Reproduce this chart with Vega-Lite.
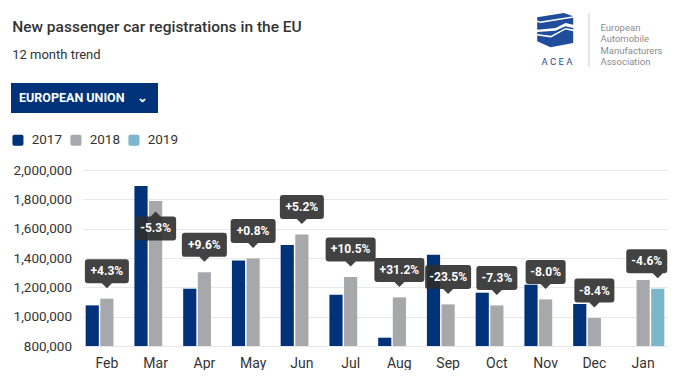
{
  "$schema": "https://vega.github.io/schema/vega-lite/v6.json",
  "background": "white",
  "padding": {"left": 10.5, "top": 13, "right": 0, "bottom": 0},
  "config": {"font": "Roboto", "view": {"stroke": null}},
  "datasets": {
    "bars": [
      {"month": "Feb", "year": "2017", "value": 1077000},
      {"month": "Feb", "year": "2018", "value": 1122500},
      {"month": "Mar", "year": "2017", "value": 1891000},
      {"month": "Mar", "year": "2018", "value": 1789000},
      {"month": "Apr", "year": "2017", "value": 1190700},
      {"month": "Apr", "year": "2018", "value": 1302000},
      {"month": "May", "year": "2017", "value": 1383700},
      {"month": "May", "year": "2018", "value": 1397300},
      {"month": "Jun", "year": "2017", "value": 1488700},
      {"month": "Jun", "year": "2018", "value": 1561000},
      {"month": "Jul", "year": "2017", "value": 1149800},
      {"month": "Jul", "year": "2018", "value": 1270500},
      {"month": "Aug", "year": "2017", "value": 856600},
      {"month": "Aug", "year": "2018", "value": 1131400},
      {"month": "Sep", "year": "2017", "value": 1422600},
      {"month": "Sep", "year": "2018", "value": 1083700},
      {"month": "Oct", "year": "2017", "value": 1163400},
      {"month": "Oct", "year": "2018", "value": 1076800},
      {"month": "Nov", "year": "2017", "value": 1218000},
      {"month": "Nov", "year": "2018", "value": 1117800},
      {"month": "Dec", "year": "2017", "value": 1086400},
      {"month": "Dec", "year": "2018", "value": 990900},
      {"month": "Jan", "year": "2018", "value": 1250000},
      {"month": "Jan", "year": "2019", "value": 1190700}
    ],
    "labels": [
      {"month": "Feb", "year": "2018", "value": 1122500, "label": "+4.3%"},
      {"month": "Mar", "year": "2018", "value": 1789000, "label": "-5.3%"},
      {"month": "Apr", "year": "2018", "value": 1302000, "label": "+9.6%"},
      {"month": "May", "year": "2018", "value": 1397300, "label": "+0.8%"},
      {"month": "Jun", "year": "2018", "value": 1561000, "label": "+5.2%"},
      {"month": "Jul", "year": "2018", "value": 1270500, "label": "+10.5%"},
      {"month": "Aug", "year": "2018", "value": 1131400, "label": "+31.2%"},
      {"month": "Sep", "year": "2018", "value": 1083700, "label": "-23.5%"},
      {"month": "Oct", "year": "2018", "value": 1076800, "label": "-7.3%"},
      {"month": "Nov", "year": "2018", "value": 1117800, "label": "-8.0%"},
      {"month": "Dec", "year": "2018", "value": 990900, "label": "-8.4%"},
      {"month": "Jan", "year": "2019", "value": 1190700, "label": "-4.6%"}
    ]
  },
  "concat": [
    {
      "concat": [
        {
          "concat": [
            {
              "width": 443,
              "height": 1,
              "view": {"fill": "white", "stroke": null},
              "title": {
                "text": "New passenger car registrations in the EU",
                "subtitle": "12 month trend",
                "orient": "bottom",
                "anchor": "start",
                "frame": "group",
                "dx": -70.3,
                "fontSize": 15.5,
                "fontWeight": 500,
                "color": "#333333",
                "subtitleFontSize": 13,
                "subtitleColor": "#333333",
                "subtitlePadding": 14,
                "offset": 5.5
              },
              "data": {"values": []},
              "mark": "text",
              "encoding": {}
            },
            {
              "width": 41,
              "height": 35,
              "view": {"fill": "white", "stroke": null},
              "title": {"text": "A C E A", "orient": "bottom", "anchor": "middle", "fontSize": 9.5, "fontWeight": "normal", "color": "#1f4d9b", "offset": 9},
              "data": {"values": [{"logo": "ACEA"}]},
              "mark": {
                "type": "point",
                "filled": true,
                "size": 4,
                "opacity": 1,
                "strokeWidth": 0,
                "color": "#1f4d9b",
                "shape": "M-19.8,-13.2L6.8,-17.5L16.2,-14.2L-17,-9L-19.8,-9.9Z M-19.8,-8.4L-16.5,-7.4L16.2,-12.8L16.2,-5.8L8.5,-7.5L-1.5,-2.5L-19.8,-0.8Z M-19.8,1.5L-1.5,0.2L8.5,-4.2L16.2,-2.5L16.2,-0.9L8.5,-2.6L-6,5.3L-19.8,3.4Z M-19.8,5L-6,7.1L8.5,-0.9L16.2,0.7L16.2,12.5L-6.5,16.8L-19.8,10.8Z"
              },
              "encoding": {}
            },
            {
              "width": 1,
              "height": 54,
              "view": {"fill": "#cccccc", "stroke": null},
              "data": {"values": []},
              "mark": "text",
              "encoding": {}
            },
            {
              "width": 56,
              "height": 10,
              "view": {"fill": "white", "stroke": null},
              "title": {
                "text": ["European", "Automobile", "Manufacturers", "Association"],
                "orient": "bottom",
                "anchor": "start",
                "frame": "group",
                "fontSize": 9.5,
                "fontWeight": "normal",
                "color": "#8c8c8c",
                "lineHeight": 11.3,
                "offset": 0
              },
              "data": {"values": []},
              "mark": "text",
              "encoding": {}
            }
          ],
          "columns": 4,
          "align": "none",
          "spacing": 11
        },
        {
          "width": 148,
          "height": 30,
          "data": {"values": [{"label": "EUROPEAN UNION\u00a0\u00a0\u00a0\u00a0⌄"}]},
          "layer": [
            {
              "mark": {
                "type": "point",
                "filled": true,
                "size": 4,
                "opacity": 1,
                "strokeWidth": 0,
                "color": "#00337a",
                "shape": "M-145.5,-15L1.5,-15L1.5,15L-145.5,15Z"
              },
              "encoding": {}
            },
            {
              "mark": {"type": "text", "color": "white", "fontWeight": "bold", "fontSize": 12.5, "dx": -73},
              "encoding": {"text": {"field": "label"}}
            }
          ]
        }
      ],
      "columns": 1,
      "align": "none",
      "spacing": 16
    },
    {
      "width": 585,
      "height": 176,
      "encoding": {
        "x": {
          "field": "month",
          "type": "nominal",
          "sort": ["Feb", "Mar", "Apr", "May", "Jun", "Jul", "Aug", "Sep", "Oct", "Nov", "Dec", "Jan"],
          "scale": {"paddingInner": 0.1, "paddingOuter": 0.05},
          "axis": {"title": null, "labelAngle": 0, "domain": false, "ticks": false, "grid": false, "labelFontSize": 14, "labelColor": "#333333", "labelPadding": 10}
        },
        "xOffset": {
          "field": "year",
          "type": "nominal",
          "scale": {"domain": ["2017", "2018", "2019"], "paddingInner": 0.1, "paddingOuter": 0.05}
        },
        "y": {
          "field": "value",
          "type": "quantitative",
          "scale": {"domain": [800000, 2000000], "nice": false, "zero": false},
          "axis": {
            "title": null,
            "values": [800000, 1000000, 1200000, 1400000, 1600000, 1800000, 2000000],
            "format": ",d",
            "domain": false,
            "ticks": false,
            "labelFontSize": 13.5,
            "labelColor": "#333333",
            "labelPadding": 11,
            "gridColor": "#e8e8e8"
          }
        }
      },
      "layer": [
        {
          "data": {"name": "bars"},
          "mark": {"type": "bar"},
          "encoding": {
            "y2": {"datum": 800000},
            "color": {
              "field": "year",
              "type": "nominal",
              "scale": {"domain": ["2017", "2018", "2019"], "range": ["#00327a", "#a7a8ab", "#7db5cb"]},
              "legend": {
                "title": null,
                "orient": "none",
                "legendX": -71.3,
                "legendY": 120,
                "direction": "horizontal",
                "symbolType": "M-0.7,-1L0.7,-1Q1,-1 1,-0.7L1,0.7Q1,1 0.7,1L-0.7,1Q-1,1 -1,0.7L-1,-0.7Q-1,-1 -0.7,-1Z",
                "symbolSize": 121,
                "symbolStrokeWidth": 0,
                "labelFontSize": 13.5,
                "labelColor": "#333333",
                "labelOffset": 7,
                "columnPadding": 7,
                "padding": 0
              }
            }
          }
        },
        {
          "data": {"name": "labels"},
          "mark": {"type": "point", "filled": true, "size": 4, "strokeWidth": 0, "color": "#2e2e2e", "opacity": 0.9},
          "encoding": {
            "shape": {
              "field": "label",
              "type": "nominal",
              "legend": null,
              "scale": {
                "domain": ["+4.3%", "-5.3%", "+9.6%", "+0.8%", "+5.2%", "+10.5%", "+31.2%", "-23.5%", "-7.3%", "-8.0%", "-8.4%", "-4.6%"],
                "range": [
                  "M-19,-39.5L19,-39.5Q22,-39.5 22,-36.5L22,-18.5Q22,-15.5 19,-15.5L5,-15.5L0,-10.5L-5,-15.5L-19,-15.5Q-22,-15.5 -22,-18.5L-22,-36.5Q-22,-39.5 -19,-39.5Z",
                  "M-17.5,39.5L17.5,39.5Q20.5,39.5 20.5,36.5L20.5,18.5Q20.5,15.5 17.5,15.5L5,15.5L0,10.5L-5,15.5L-17.5,15.5Q-20.5,15.5 -20.5,18.5L-20.5,36.5Q-20.5,39.5 -17.5,39.5Z",
                  "M-19.5,-39.5L19.5,-39.5Q22.5,-39.5 22.5,-36.5L22.5,-18.5Q22.5,-15.5 19.5,-15.5L5,-15.5L0,-10.5L-5,-15.5L-19.5,-15.5Q-22.5,-15.5 -22.5,-18.5L-22.5,-36.5Q-22.5,-39.5 -19.5,-39.5Z",
                  "M-19.5,-39.5L19.5,-39.5Q22.5,-39.5 22.5,-36.5L22.5,-18.5Q22.5,-15.5 19.5,-15.5L5,-15.5L0,-10.5L-5,-15.5L-19.5,-15.5Q-22.5,-15.5 -22.5,-18.5L-22.5,-36.5Q-22.5,-39.5 -19.5,-39.5Z",
                  "M-19,-39.5L19,-39.5Q22,-39.5 22,-36.5L22,-18.5Q22,-15.5 19,-15.5L5,-15.5L0,-10.5L-5,-15.5L-19,-15.5Q-22,-15.5 -22,-18.5L-22,-36.5Q-22,-39.5 -19,-39.5Z",
                  "M-22,-39.5L22,-39.5Q25,-39.5 25,-36.5L25,-18.5Q25,-15.5 22,-15.5L5,-15.5L0,-10.5L-5,-15.5L-22,-15.5Q-25,-15.5 -25,-18.5L-25,-36.5Q-25,-39.5 -22,-39.5Z",
                  "M-22,-39.5L22,-39.5Q25,-39.5 25,-36.5L25,-18.5Q25,-15.5 22,-15.5L5,-15.5L0,-10.5L-5,-15.5L-22,-15.5Q-25,-15.5 -25,-18.5L-25,-36.5Q-25,-39.5 -22,-39.5Z",
                  "M-20,-39.5L20,-39.5Q23,-39.5 23,-36.5L23,-18.5Q23,-15.5 20,-15.5L5,-15.5L0,-10.5L-5,-15.5L-20,-15.5Q-23,-15.5 -23,-18.5L-23,-36.5Q-23,-39.5 -20,-39.5Z",
                  "M-17.5,-39.5L17.5,-39.5Q20.5,-39.5 20.5,-36.5L20.5,-18.5Q20.5,-15.5 17.5,-15.5L5,-15.5L0,-10.5L-5,-15.5L-17.5,-15.5Q-20.5,-15.5 -20.5,-18.5L-20.5,-36.5Q-20.5,-39.5 -17.5,-39.5Z",
                  "M-17,-39.5L17,-39.5Q20,-39.5 20,-36.5L20,-18.5Q20,-15.5 17,-15.5L5,-15.5L0,-10.5L-5,-15.5L-17,-15.5Q-20,-15.5 -20,-18.5L-20,-36.5Q-20,-39.5 -17,-39.5Z",
                  "M-17,-39.5L17,-39.5Q20,-39.5 20,-36.5L20,-18.5Q20,-15.5 17,-15.5L5,-15.5L0,-10.5L-5,-15.5L-17,-15.5Q-20,-15.5 -20,-18.5L-20,-36.5Q-20,-39.5 -17,-39.5Z",
                  "M-28.5,-39.5L6.5,-39.5Q9.5,-39.5 9.5,-36.5L9.5,-18.5Q9.5,-15.5 6.5,-15.5L5,-15.5L0,-10.5L-5,-15.5L-28.5,-15.5Q-31.5,-15.5 -31.5,-18.5L-31.5,-36.5Q-31.5,-39.5 -28.5,-39.5Z"
                ]
              }
            }
          }
        },
        {
          "data": {"name": "labels"},
          "transform": [{"filter": "datum.month !== 'Mar' && datum.month !== 'Jan'"}],
          "mark": {"type": "text", "color": "white", "fontWeight": "bold", "fontSize": 12, "baseline": "middle", "dy": -27.5},
          "encoding": {"text": {"field": "label"}}
        },
        {
          "data": {"name": "labels"},
          "transform": [{"filter": "datum.month === 'Mar'"}],
          "mark": {"type": "text", "color": "white", "fontWeight": "bold", "fontSize": 12, "baseline": "middle", "dy": 27.5},
          "encoding": {"text": {"field": "label"}}
        },
        {
          "data": {"name": "labels"},
          "transform": [{"filter": "datum.month === 'Jan'"}],
          "mark": {"type": "text", "color": "white", "fontWeight": "bold", "fontSize": 12, "baseline": "middle", "dy": -27.5, "dx": -11},
          "encoding": {"text": {"field": "label"}}
        }
      ]
    }
  ],
  "columns": 1,
  "align": "none",
  "spacing": 50
}
